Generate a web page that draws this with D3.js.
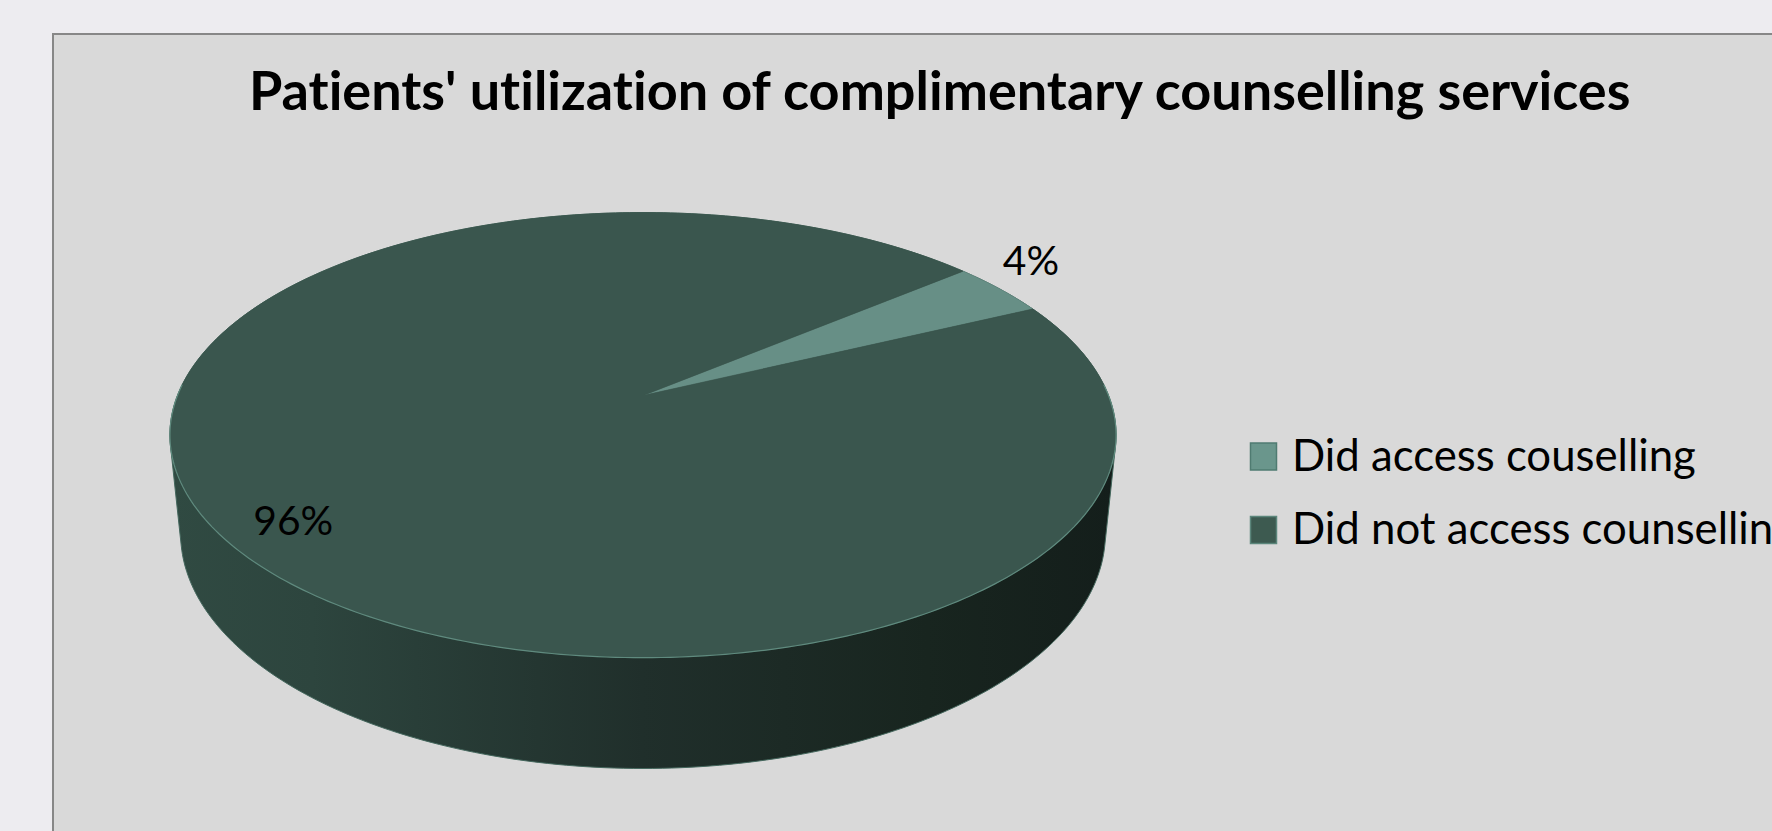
<!DOCTYPE html>
<html>
<head>
<meta charset="utf-8">
<script src="https://cdn.jsdelivr.net/npm/d3@7"></script>
<style>
  html, body { margin: 0; padding: 0; background: #edecf0; overflow: hidden; }
  svg { display: block; }
  text { font-family: Lato, "Open Sans", sans-serif; fill: #000; font-variant-ligatures: none; font-feature-settings: "liga" 0, "clig" 0; }
</style>
</head>
<body>
<svg id="chart" width="1772" height="831"></svg>
<script>
// ---- data ----
const title = "Patients' utilization of complimentary counselling services";
const categories = ["Did access couselling", "Did not access counselling"];
const values = [4, 96];
const valueLabels = ["4%", "96%"];

// ---- styles ----
const topColors = ["#678f86", "#3a564e"];
const swatchFill = ["#6a968c", "#3d5a50"];
const swatchStroke = ["#4f7b71", "#5b867b"];

const W = 1772, H = 831;
const svg = d3.select("#chart");

// page background and chart area
svg.append("rect").attr("width", W).attr("height", H).attr("fill", "#edecf0");
svg.append("rect").attr("x", 53).attr("y", 34).attr("width", W).attr("height", H)
  .attr("fill", "#d9d9d9").attr("stroke", "#878787").attr("stroke-width", 2);

// ---- 3D perspective projection of the pie ----
const cx = 643, cy = 395.5, S = 465.5;
const alpha = Math.asin(0.463), ca = Math.cos(alpha), sa = Math.sin(alpha);
const Dcam = 4.98, depth = 0.241;
function proj(phi, h) {
  const x = Math.sin(phi), z = -Math.cos(phi);
  const w = z * ca + h * sa;
  const v = h * ca - z * sa;
  const f = Dcam / (Dcam - w);
  return [cx + S * x * f, cy - S * v * f];
}
function arcPts(a0, a1, h, n) {
  const pts = [];
  for (let i = 0; i <= n; i++) pts.push(proj(a0 + (a1 - a0) * i / n, h));
  return pts;
}

const startAngle = 50 * Math.PI / 180;
const pie = d3.pie().sort(null).value(d => d)
  .startAngle(startAngle).endAngle(startAngle + 2 * Math.PI);
const arcs = pie(values);

// side gradient
const defs = svg.append("defs");
const grad = defs.append("linearGradient").attr("id", "sideGrad")
  .attr("gradientUnits", "userSpaceOnUse")
  .attr("x1", 170).attr("y1", 0).attr("x2", 1116).attr("y2", 0);
[[0, "#304a42"], [0.15, "#2d453e"], [0.5, "#202f2b"], [0.8, "#18251f"], [1, "#141e1b"]]
  .forEach(([o, c]) => grad.append("stop").attr("offset", o).attr("stop-color", c));

// side body: hull of top & bottom rims
const rimPts = arcPts(0, 2 * Math.PI, 0, 360).concat(arcPts(0, 2 * Math.PI, -depth, 360));
const hull = d3.polygonHull(rimPts);
const line = d3.line();
svg.append("path").attr("d", line(hull) + "Z")
  .attr("fill", "url(#sideGrad)").attr("stroke", "#44675d").attr("stroke-width", 1);

// top faces
const g = svg.append("g");
arcs.forEach((a, i) => {
  const n = Math.max(4, Math.ceil((a.endAngle - a.startAngle) * 180 / Math.PI));
  const pts = [[cx, cy]].concat(arcPts(a.startAngle, a.endAngle, 0, n));
  g.append("path").attr("d", line(pts) + "Z")
    .attr("fill", topColors[i]).attr("stroke", topColors[i]).attr("stroke-width", 0.6);
});
// light rim line along front edge of top face
svg.append("path").attr("d", line(arcPts(Math.PI / 2 - 0.05, 3 * Math.PI / 2 + 0.05, 0, 200)))
  .attr("fill", "none").attr("stroke", "#5f8a7e").attr("stroke-width", 1.2);

// ---- text ----
function fit(sel, target, base) {
  sel.attr("font-size", base);
  const len = sel.node().getComputedTextLength();
  return base * target / len;
}

const t = svg.append("text").attr("x", 939.7).attr("y", 109.5)
  .attr("text-anchor", "middle").attr("font-weight", "bold").text(title);
t.attr("font-size", fit(t, 1382, 56));

// data labels
const labelPos = [[1031, 275], [293.3, 535]];
const lbls = valueLabels.map((s, i) => svg.append("text")
  .attr("x", labelPos[i][0]).attr("y", labelPos[i][1])
  .attr("text-anchor", "middle").text(s));
const lblSize = fit(lbls[1], 80, 46);
lbls.forEach(l => l.attr("font-size", lblSize));

// legend
const legY = [443, 516.5];
const legItems = categories.map((c, i) => {
  svg.append("rect").attr("x", 1250.5).attr("y", legY[i]).attr("width", 26).attr("height", 27)
    .attr("fill", swatchFill[i]).attr("stroke", swatchStroke[i]).attr("stroke-width", 1.5);
  return svg.append("text").attr("x", 1292).attr("y", legY[i] + 27.5).text(c);
});
const legSize = fit(legItems[0], 404, 46);
legItems.forEach(l => l.attr("font-size", legSize));
</script>
</body>
</html>
